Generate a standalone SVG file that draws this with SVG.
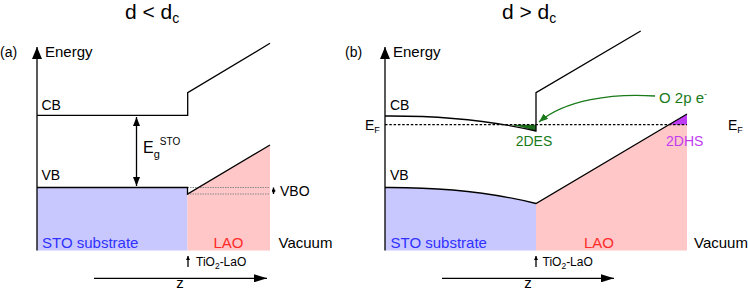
<svg xmlns="http://www.w3.org/2000/svg" width="748" height="291" viewBox="0 0 748 291">
<style>
text{font-family:"Liberation Sans",Arial,sans-serif;fill:#000}
.t{font-size:21px}
.l{font-size:15px}
.s{font-size:14px}
.k{fill:none;stroke:#000;stroke-width:1.3}
.d{fill:none;stroke:#000;stroke-width:1.2;stroke-dasharray:2.5,1.8}
.g{fill:none;stroke:#888;stroke-width:1;stroke-dasharray:1.5,1}
.blue{fill:#c8c8ff}
.pink{fill:#ffc7c7}
.bt{fill:#3030ff}
.rt{fill:#ff2a2a}
.gt{fill:#1a7a1a}
.pt{fill:#c33cf2}
</style>
<defs>
<marker id="big" markerUnits="userSpaceOnUse" markerWidth="12" markerHeight="10" refX="12" refY="5" orient="auto"><path d="M0,0 L12,5 L0,10 Z" fill="#000"/></marker>
<marker id="zax" markerUnits="userSpaceOnUse" markerWidth="13" markerHeight="8" refX="13" refY="4" orient="auto"><path d="M0,0 L13,4 L0,8 Z" fill="#000"/></marker>
<marker id="mid" markerUnits="userSpaceOnUse" markerWidth="9" markerHeight="7" refX="9" refY="3.5" orient="auto-start-reverse"><path d="M0,0 L9,3.5 L0,7 Z" fill="#000"/></marker>
<marker id="tiny" markerUnits="userSpaceOnUse" markerWidth="4" markerHeight="4" refX="4" refY="2" orient="auto-start-reverse"><path d="M0,0 L4,2 L0,4 Z" fill="#000"/></marker>
<marker id="grn" markerUnits="userSpaceOnUse" markerWidth="9" markerHeight="7" refX="9" refY="3.5" orient="auto"><path d="M0,0 L9,3.5 L0,7 Z" fill="#1a7a1a"/></marker>
</defs>

<g id="panel-a">
  <text class="t" x="125" y="19">d &lt; d<tspan font-size="14" dy="4">c</tspan></text>
  <text class="s" x="0" y="57">(a)</text>
  <text class="l" x="45" y="57">Energy</text>
  <rect class="blue" x="37" y="187.5" width="150.5" height="63"/>
  <polygon class="pink" points="187.5,194 270,145 270,250.5 187.5,250.5"/>
  <line class="g" x1="187.5" y1="187.5" x2="270" y2="187.5"/>
  <line class="g" x1="187.5" y1="194" x2="270" y2="194"/>
  <path class="k" d="M37,115.3 H187.7 V92.7 L270,43.3"/>
  <path class="k" d="M37,187.5 H187.5 V194 L270,145"/>
  <text class="s" x="41.5" y="110">CB</text>
  <text class="s" x="41.5" y="180">VB</text>
  <text x="143" y="153" font-size="16">E<tspan font-size="11" dy="5">g</tspan><tspan font-size="10" dy="-13">STO</tspan></text>
  <text class="s" x="280" y="195.5">VBO</text>
  <text class="l bt" x="42" y="248">STO substrate</text>
  <text class="l rt" x="228.5" y="248" text-anchor="middle">LAO</text>
  <text class="l" x="278.5" y="248">Vacuum</text>
  <text x="196" y="266" font-size="12">TiO<tspan font-size="8.5" dy="3">2</tspan><tspan dy="-3">-LaO</tspan></text>
  <text class="l" x="180" y="288" text-anchor="middle">z</text>
</g>

<g id="panel-b">
  <text class="t" x="502" y="19">d &gt; d<tspan font-size="14" dy="4">c</tspan></text>
  <text class="s" x="345" y="57">(b)</text>
  <text class="l" x="393" y="57">Energy</text>
  <path class="blue" d="M385,187.5 Q470,187 536,203.5 V250.5 H385 Z"/>
  <polygon class="pink" points="536,203.5 687,114 687,250.5 536,250.5"/>
  <polygon points="668.9,124.7 687,114 687,124.7" fill="#bf3cf5"/>
  <path d="M510,124.7 Q524,127 536,131 V124.7 Z" fill="#1a6e1a"/>
  <path class="k" d="M385,116 Q470,115.5 536,131 V92.7 L640.7,31"/>
  <path class="k" d="M385,187.5 Q470,187 536,203.5 L687,114"/>
  <line class="d" x1="385" y1="124.7" x2="687" y2="124.7"/>
  <text class="s" x="390" y="110">CB</text>
  <text class="s" x="390" y="180">VB</text>
  <text class="s" x="365" y="130">E<tspan font-size="9" dy="3">F</tspan></text>
  <text class="s" x="728" y="130">E<tspan font-size="9" dy="3">F</tspan></text>
  <text class="l gt" x="659" y="103">O 2p e<tspan font-size="9" dy="-6">-</tspan></text>
  <text class="s gt" x="534" y="146" text-anchor="middle">2DES</text>
  <text class="s pt" x="666" y="146">2DHS</text>
  <text class="l bt" x="390.5" y="248">STO substrate</text>
  <text class="l rt" x="599" y="248" text-anchor="middle">LAO</text>
  <text class="l" x="694" y="248">Vacuum</text>
  <text x="542.5" y="266" font-size="12">TiO<tspan font-size="8.5" dy="3">2</tspan><tspan dy="-3">-LaO</tspan></text>
  <text class="l" x="528" y="288" text-anchor="middle">z</text>
</g>

<g id="connectors">
  <line class="k" x1="37" y1="250.5" x2="37" y2="47" marker-end="url(#big)"/>
  <line class="k" x1="385" y1="250.5" x2="385" y2="47" marker-end="url(#big)"/>
  <line class="k" x1="136.5" y1="117" x2="136.5" y2="186" marker-start="url(#mid)" marker-end="url(#mid)"/>
  <line class="k" x1="273.5" y1="187.5" x2="273.5" y2="194" stroke-width="1" marker-start="url(#tiny)" marker-end="url(#tiny)"/>
  <line class="k" x1="188" y1="267" x2="188" y2="256" stroke-width="1" marker-end="url(#tiny)"/>
  <line class="k" x1="536" y1="267" x2="536" y2="256" stroke-width="1" marker-end="url(#tiny)"/>
  <line class="k" x1="94" y1="278.3" x2="267" y2="278.3" marker-end="url(#zax)"/>
  <line class="k" x1="442" y1="278.3" x2="614" y2="278.3" marker-end="url(#zax)"/>
  <path d="M655,96 C612,93 565,100 539,122" fill="none" stroke="#1a7a1a" stroke-width="1.3" marker-end="url(#grn)"/>
</g>
</svg>
